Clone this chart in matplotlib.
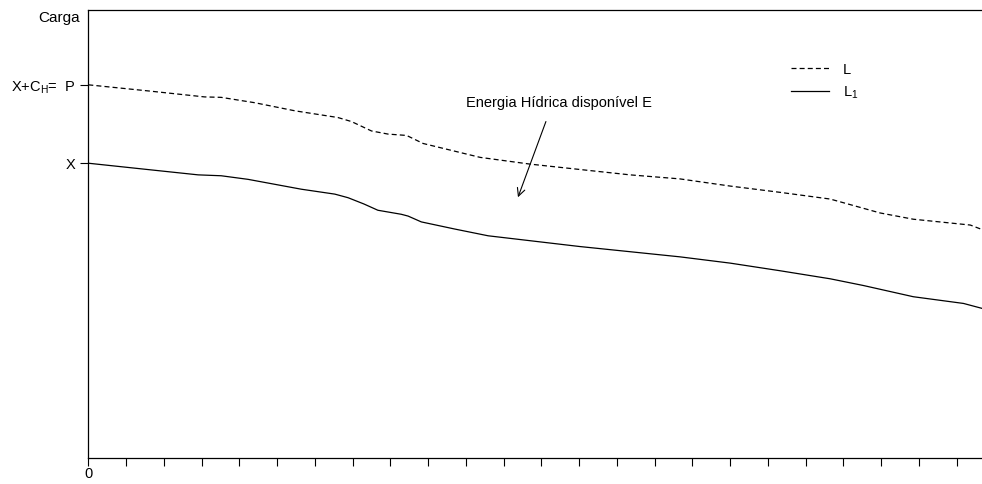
import matplotlib
matplotlib.use("Agg")
import matplotlib.pyplot as plt
from matplotlib.lines import Line2D

plt.rcParams["font.family"] = ["Liberation Sans", "DejaVu Sans"]
plt.rcParams["mathtext.fontset"] = "custom"
plt.rcParams["mathtext.rm"] = "Liberation Sans"

# curva de carga L e curva L1 (abscissa em intervalos de tempo)
t_L = [0.0, 1.63, 3.08, 3.52, 4.41, 5.47, 6.61, 6.97, 7.50, 7.94, 8.43, 8.87,
       10.38, 11.70, 13.02, 14.35, 15.67, 17.00, 18.32, 19.65, 20.97, 21.85,
       23.36, 23.67]
carga_L = [8.33, 8.19, 8.06, 8.05, 7.93, 7.75, 7.60, 7.51, 7.30, 7.23, 7.20, 7.02,
           6.71, 6.56, 6.44, 6.32, 6.23, 6.07, 5.93, 5.78, 5.47, 5.33,
           5.20, 5.10]

t_L1 = [0.0, 1.45, 2.91, 3.52, 4.23, 5.64, 6.53, 6.88, 7.30, 7.67, 8.29, 8.47,
        8.82, 9.71, 10.59, 13.02, 15.67, 17.00, 18.32, 19.65, 20.53, 21.85,
        23.18, 23.67]
carga_L1 = [6.58, 6.45, 6.32, 6.30, 6.22, 6.00, 5.89, 5.81, 5.67, 5.53, 5.44, 5.40,
            5.27, 5.11, 4.96, 4.72, 4.49, 4.35, 4.18, 4.00, 3.85, 3.60,
            3.45, 3.34]

nivel_P = 8.33
nivel_X = 6.58
y_labels = ["X+C$_\\mathrm{H}$=  P", "X"]
n_ticks = 24
fs = 10.5

fig = plt.figure(figsize=(9.82, 4.84), dpi=100)
ax = fig.add_axes([88.3 / 982, 1 - 458 / 484, 1 - 88.3 / 982, 448 / 484])

ax.plot(t_L, carga_L, color="black", lw=0.9, ls=(0, (4, 2.5)))
ax.plot(t_L1, carga_L1, color="black", lw=0.9)

ax.set_xlim(0, 23.67)
ax.set_ylim(0, 10)
ax.set_xticks(range(n_ticks))
ax.set_xticklabels(["0"] + [""] * (n_ticks - 1))
ax.set_yticks([nivel_P, nivel_X])
ax.set_yticklabels(y_labels)
ax.tick_params(direction="out", length=5.8, width=0.8, labelsize=fs, pad=3.5)
ax.tick_params(axis="x", pad=0.5)
for side in ["left", "bottom", "top"]:
    ax.spines[side].set_linewidth(0.9)
ax.spines["right"].set_visible(False)

ax.text(-0.009, 0.982, "Carga", transform=ax.transAxes, ha="right", va="center",
        fontsize=11)

ax.annotate("", xy=(11.38, 5.82), xytext=(12.12, 7.51),
            arrowprops=dict(arrowstyle="->", color="black", lw=0.8,
                            mutation_scale=14, shrinkA=0, shrinkB=0))
ax.text(12.46, 7.92, "Energia Hídrica disponível E", ha="center", va="center",
        fontsize=fs)

handles = [Line2D([], [], color="black", lw=0.9, ls=(0, (4, 2.5))),
           Line2D([], [], color="black", lw=0.9)]
ax.legend(handles, ["L", "L$_\\mathrm{1}$"], frameon=False, fontsize=fs,
          loc="upper left", bbox_to_anchor=(0.7715, 0.912), handlelength=2.6,
          handletextpad=0.95, labelspacing=0.54)

fig.savefig("out.png", dpi=100)
